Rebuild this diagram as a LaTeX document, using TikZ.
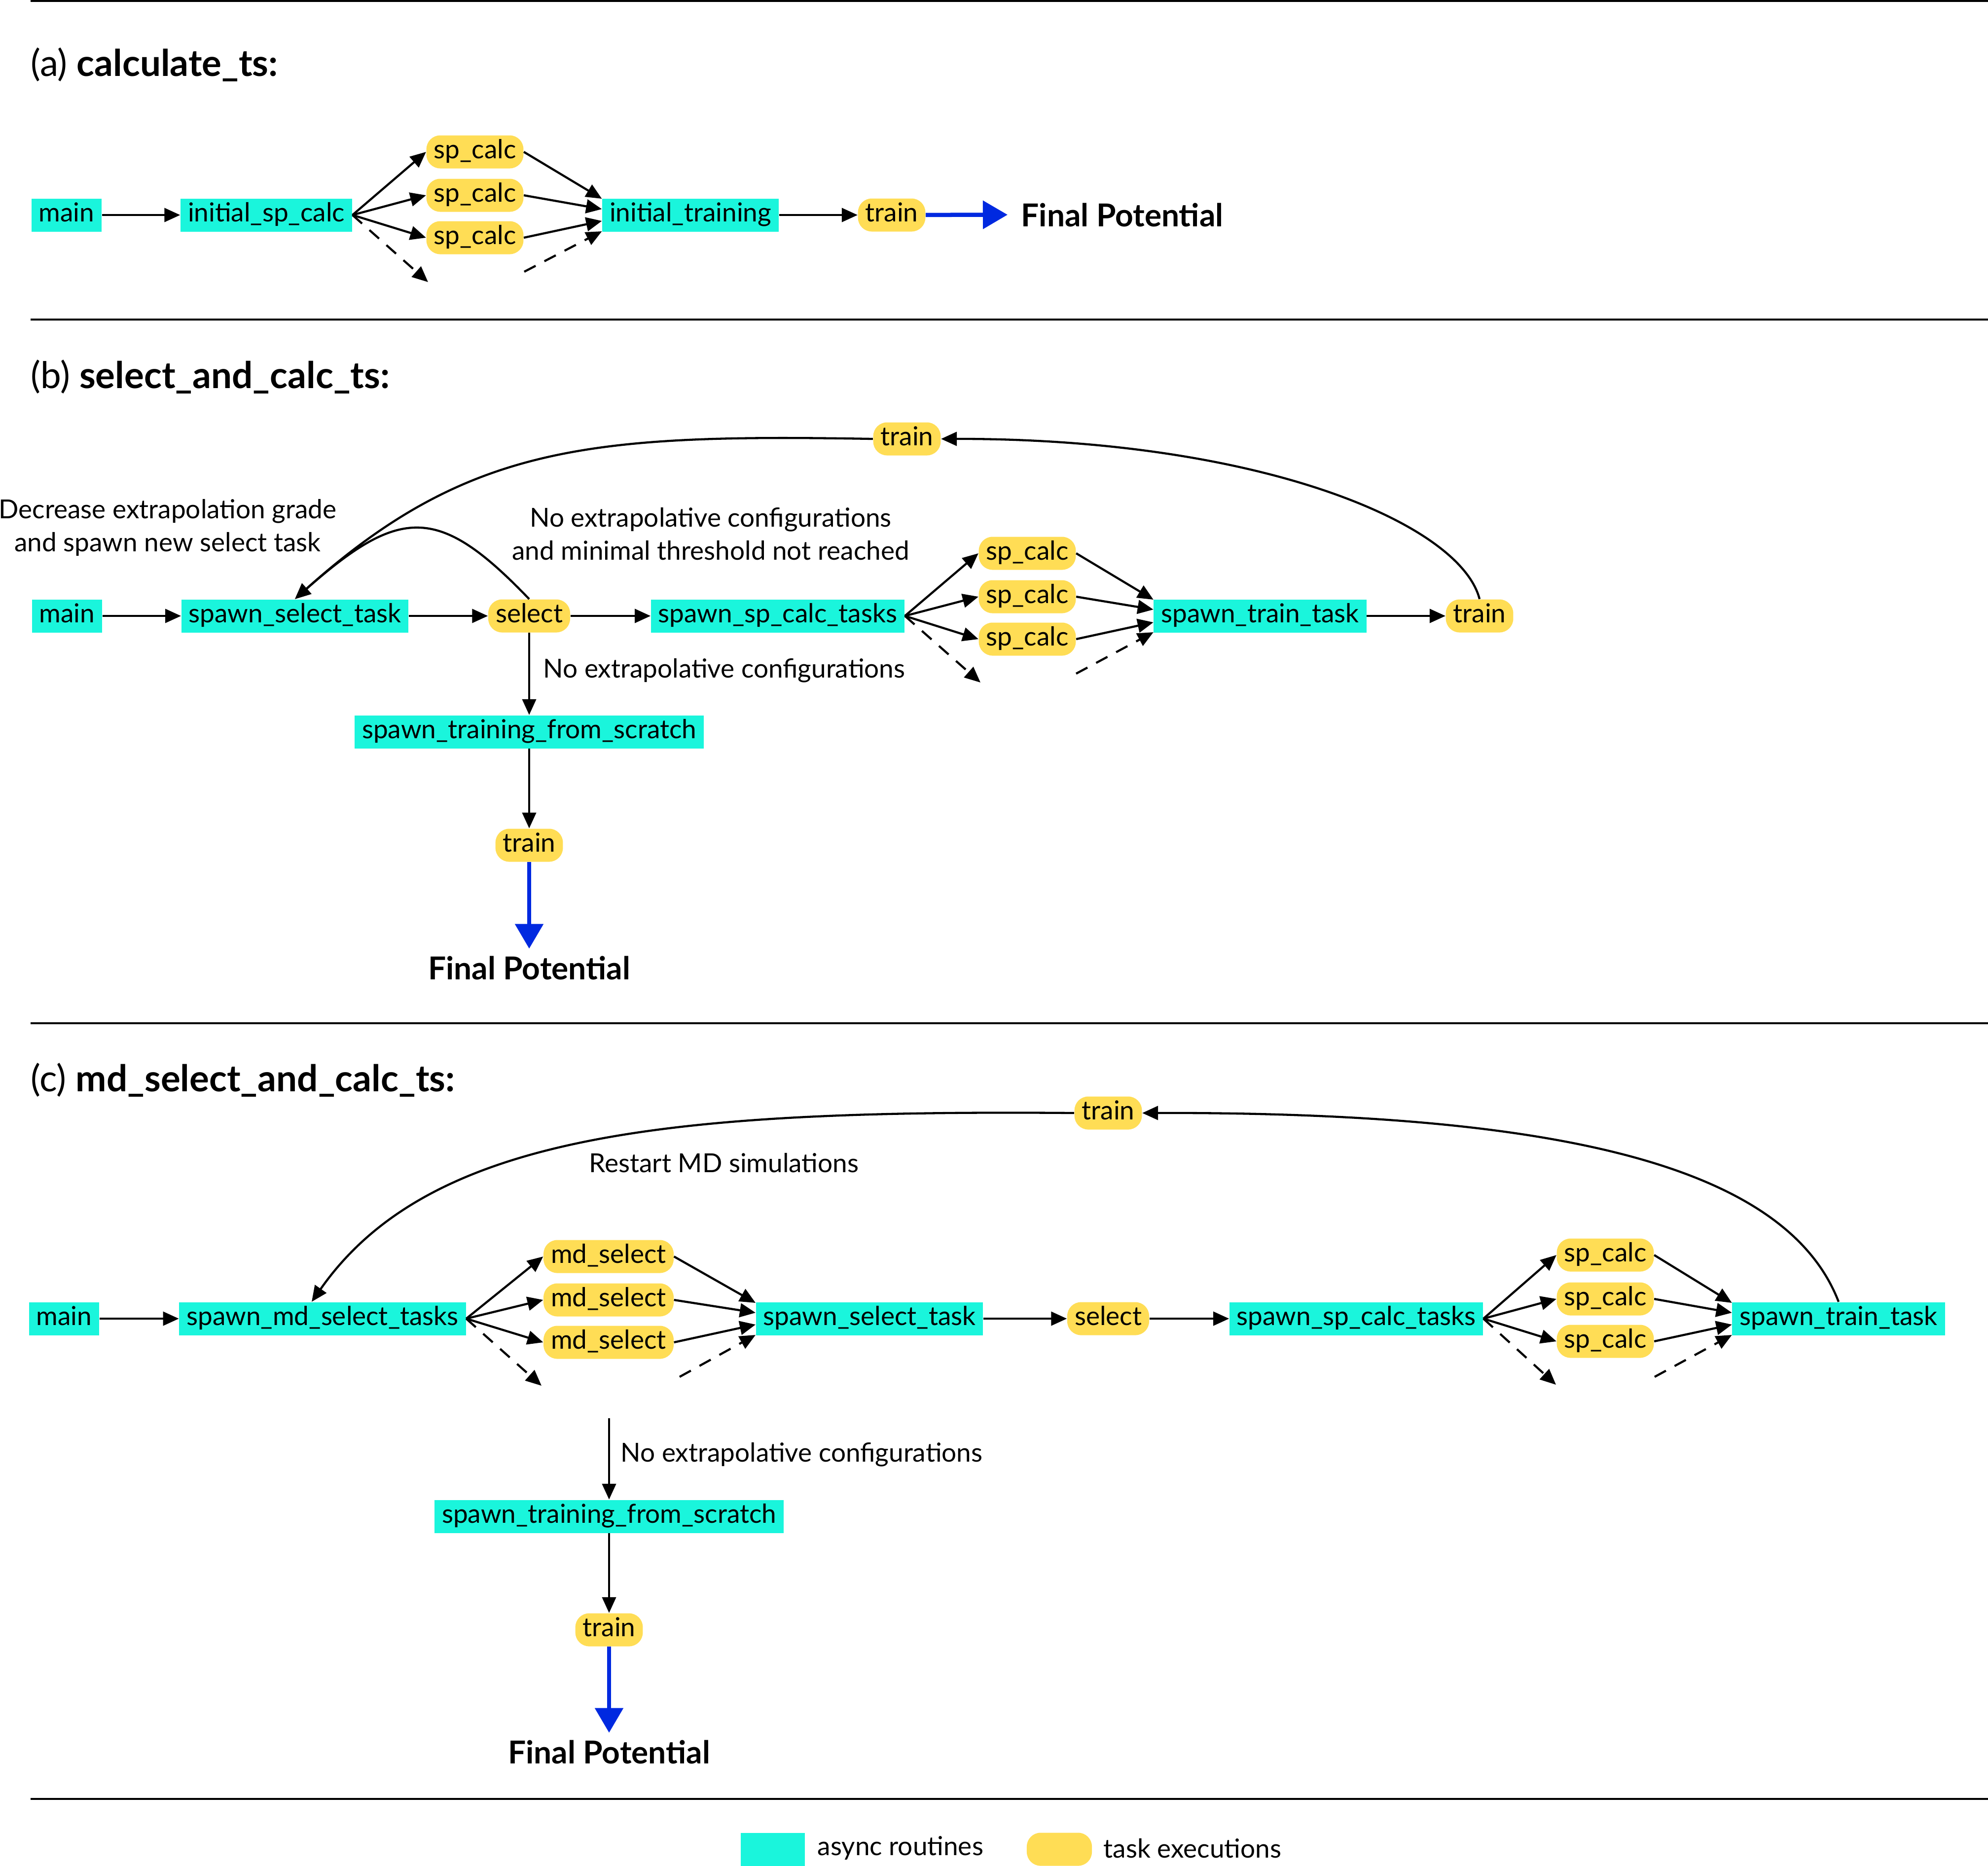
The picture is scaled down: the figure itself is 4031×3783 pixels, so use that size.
\documentclass[tikz,border=0pt]{standalone}
\usepackage{fontspec}
\setmainfont{Lato}
\usetikzlibrary{arrows.meta,calc}
\definecolor{asyncc}{HTML}{1AF5DC}
\definecolor{taskc}{HTML}{FFDD55}
\definecolor{finalc}{HTML}{0029E0}
\newcommand\nfont{\fontsize{15.1}{19}\selectfont}
\newcommand\tfont{\fontsize{21.2}{25}\selectfont}
\newcommand\ffont{\fontsize{18.2}{22}\selectfont\bfseries}
\begin{document}
\begin{tikzpicture}[x=0.01cm,y=-0.01cm,
  base/.style={minimum height=0.67cm, inner xsep=0.15cm, inner ysep=0pt, text height=0.38cm, text depth=0.11cm, font=\nfont},
  async/.style={base, fill=asyncc},
  task/.style={base, fill=taskc, rounded corners=0.28cm},
  lbl/.style={font=\nfont, inner sep=0pt},
  ttl/.style={font=\tfont, inner sep=0pt, anchor=base west},
  fin/.style={font=\ffont, inner xsep=0.27cm, inner ysep=0.14cm},
  arr/.style={draw=black, line width=0.043cm, -{Triangle[length=0.32cm,width=0.28cm]}},
  dsh/.style={arr, dash pattern=on 0.26cm off 0.2cm},
  farr/.style={draw=finalc, line width=0.085cm, -{Triangle[length=0.5cm,width=0.56cm]}},
  rule/.style={line width=0.04cm}]
\useasboundingbox (0,0) rectangle (4031,3783);
% rules
\draw[rule] (62,2) -- (4031,2);
\draw[rule] (62,648) -- (4031,648);
\draw[rule] (62,2075) -- (4031,2075);
\draw[rule] (62,3648) -- (4031,3648);

% ---------------- (a)
\node[ttl] (tA) at (62,154) {(a) \textbf{calculate\_ts:}};
\node[async] (mainA) at (135,436) {main};
\node[async] (iscA) at (540,436) {initial\_sp\_calc};
\node[task] (spA1) at (963,308) {sp\_calc};
\node[task] (spA2) at (963,396) {sp\_calc};
\node[task] (spA3) at (963,482) {sp\_calc};
\node[async] (itA) at (1400,436) {initial\_training};
\node[task] (trA) at (1808,436) {train};
\node[fin, anchor=base west] (fpA) at (2043,459) {Final Potential};
\coordinate (dAin) at (868,572);
\coordinate (dAout) at (1063,551);
\draw[arr] (mainA) -- (iscA);
\draw[arr] (iscA.east) -- (spA1.west);
\draw[arr] (iscA.east) -- (spA2.west);
\draw[arr] (iscA.east) -- (spA3.west);
\draw[dsh] (iscA.east) -- (dAin);
\draw[arr] (spA1.east) -- ([yshift=0.33cm]itA.west);
\draw[arr] (spA2.east) -- ([yshift=0.12cm]itA.west);
\draw[arr] (spA3.east) -- ([yshift=-0.12cm]itA.west);
\draw[dsh] (dAout) -- ([yshift=-0.33cm]itA.west);
\draw[arr] (itA) -- (trA);
\draw[farr] (trA) -- (fpA.west);

% ---------------- (b)
\node[ttl] (tB) at (62,787) {(b) \textbf{select\_and\_calc\_ts:}};
\node[async] (mainB) at (136,1249) {main};
\node[async] (sstB) at (598,1249) {spawn\_select\_task};
\node[task] (selB) at (1073,1249) {select};
\node[async] (sspB) at (1577,1249) {spawn\_sp\_calc\_tasks};
\node[task] (spB1) at (2083,1122) {sp\_calc};
\node[task] (spB2) at (2083,1210) {sp\_calc};
\node[task] (spB3) at (2083,1296) {sp\_calc};
\node[async] (sttB) at (2555,1249) {spawn\_train\_task};
\node[task] (trBr) at (3000,1249) {train};
\node[task] (trBt) at (1839,890) {train};
\node[async] (stfB) at (1073,1484) {spawn\_training\_from\_scratch};
\node[task] (trBb) at (1073,1714) {train};
\node[fin, anchor=base] (fpB) at (1073,1986) {Final Potential};
\node[lbl, align=center] (lbB1) at (340,1070) {Decrease extrapolation grade\\and spawn new select task};
\node[lbl, align=center] (lbB2) at (1441,1083) {No extrapolative configurations\\and minimal threshold not reached};
\node[lbl, anchor=west] (lbB3) at (1101,1360) {No extrapolative configurations};
\coordinate (dBin) at (1988,1384);
\coordinate (dBout) at (2182,1366);
\draw[arr] (mainB) -- (sstB);
\draw[arr] (sstB) -- (selB);
\draw[arr] (selB) -- (sspB);
\draw[arr] (sspB.east) -- (spB1.west);
\draw[arr] (sspB.east) -- (spB2.west);
\draw[arr] (sspB.east) -- (spB3.west);
\draw[dsh] (sspB.east) -- (dBin);
\draw[arr] (spB1.east) -- ([yshift=0.33cm]sttB.west);
\draw[arr] (spB2.east) -- ([yshift=0.13cm]sttB.west);
\draw[arr] (spB3.east) -- ([yshift=-0.13cm]sttB.west);
\draw[dsh] (dBout) -- ([yshift=-0.33cm]sttB.west);
\draw[arr] (sttB) -- (trBr);
\draw[arr] (trBr.north) .. controls (2960,1060) and (2550,889) .. (trBt.east);
\draw[arr] (trBt.west) .. controls (1200,880) and (950,900) .. (sstB.north);
\draw[arr] (selB.north) .. controls (891,1025) and (813,1025) .. (sstB.north);
\draw[arr] (selB) -- (stfB);
\draw[arr] (stfB) -- (trBb);
\draw[farr] (trBb) -- (fpB);

% ---------------- (c)
\node[ttl] (tC) at (62,2213) {(c) \textbf{md\_select\_and\_calc\_ts:}};
\node[async] (mainC) at (130,2674) {main};
\node[async] (smsC) at (654,2674) {spawn\_md\_select\_tasks};
\node[task] (mdC1) at (1234,2548) {md\_select};
\node[task] (mdC2) at (1234,2636) {md\_select};
\node[task] (mdC3) at (1234,2722) {md\_select};
\node[async] (sstC) at (1763,2674) {spawn\_select\_task};
\node[task] (selC) at (2247,2674) {select};
\node[async] (sspC) at (2750,2674) {spawn\_sp\_calc\_tasks};
\node[task] (spC1) at (3255,2545) {sp\_calc};
\node[task] (spC2) at (3255,2634) {sp\_calc};
\node[task] (spC3) at (3255,2720) {sp\_calc};
\node[async] (sttC) at (3728,2674) {spawn\_train\_task};
\node[task] (trCt) at (2247,2257) {train};
\node[lbl] (lbC1) at (1468,2358) {Restart MD simulations};
\coordinate (nxC) at (1235,2876);
\node[lbl, anchor=west] (lbC2) at (1258,2950) {No extrapolative configurations};
\node[async] (stfC) at (1235,3075) {spawn\_training\_from\_scratch};
\node[task] (trCb) at (1235,3305) {train};
\node[fin, anchor=base] (fpC) at (1235,3576) {Final Potential};
\coordinate (dC1in) at (1098,2810);
\coordinate (dC1out) at (1378,2792);
\coordinate (dC2in) at (3155,2808);
\coordinate (dC2out) at (3355,2792);
\draw[arr] (mainC) -- (smsC);
\draw[arr] (smsC.east) -- (mdC1.west);
\draw[arr] (smsC.east) -- (mdC2.west);
\draw[arr] (smsC.east) -- (mdC3.west);
\draw[dsh] (smsC.east) -- (dC1in);
\draw[arr] (mdC1.east) -- ([yshift=0.32cm]sstC.west);
\draw[arr] (mdC2.east) -- ([yshift=0.12cm]sstC.west);
\draw[arr] (mdC3.east) -- ([yshift=-0.12cm]sstC.west);
\draw[dsh] (dC1out) -- ([yshift=-0.33cm]sstC.west);
\draw[arr] (sstC) -- (selC);
\draw[arr] (selC) -- (sspC);
\draw[arr] (sspC.east) -- (spC1.west);
\draw[arr] (sspC.east) -- (spC2.west);
\draw[arr] (sspC.east) -- (spC3.west);
\draw[dsh] (sspC.east) -- (dC2in);
\draw[arr] (spC1.east) -- ([yshift=0.32cm]sttC.west);
\draw[arr] (spC2.east) -- ([yshift=0.12cm]sttC.west);
\draw[arr] (spC3.east) -- ([yshift=-0.12cm]sttC.west);
\draw[dsh] (dC2out) -- ([yshift=-0.33cm]sttC.west);
\draw[arr] (sttC.north) .. controls (3620,2360) and (3150,2255) .. (trCt.east);
\draw[arr] (trCt.west) .. controls (1350,2250) and (870,2300) .. ([xshift=-0.22cm]smsC.north);
\draw[arr] (nxC) -- (stfC);
\draw[arr] (stfC) -- (trCb);
\draw[farr] (trCb) -- (fpC);

% ---------------- legend
\node[async, minimum width=1.3cm] (legA) at (1567,3750) {};
\node[lbl, anchor=west] (legAt) at (1657,3748) {async routines};
\node[task, minimum width=1.32cm] (legT) at (2148,3750) {};
\node[lbl, anchor=west] (legTt) at (2237,3748) {task executions};
\end{tikzpicture}
\end{document}
